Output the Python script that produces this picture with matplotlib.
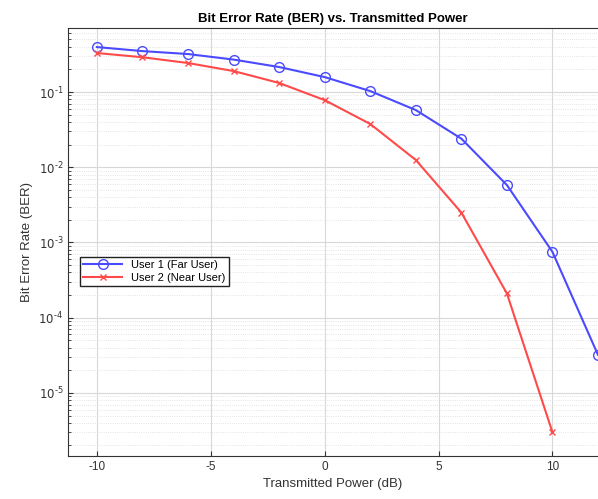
import numpy as np
import matplotlib.pyplot as plt
from matplotlib.ticker import LogLocator, MultipleLocator, NullFormatter, FuncFormatter

# === Data ===
power_db = [-10, -8, -6, -4, -2, 0, 2, 4, 6, 8, 10, 12]
ber_user1 = [0.396, 0.35, 0.32, 0.27, 0.215, 0.158, 0.103, 0.0576, 0.024, 0.0058, 7.5e-4, 3.2e-5]
power_db_user2 = [-10, -8, -6, -4, -2, 0, 2, 4, 6, 8, 10]
ber_user2 = [0.33, 0.29, 0.243, 0.19, 0.132, 0.078, 0.0376, 0.0125, 0.0025, 2.1e-4, 3.0e-6]

# === Plot ===
plt.rcParams['font.family'] = ['Liberation Sans', 'DejaVu Sans']
plt.rcParams['axes.unicode_minus'] = False
fig = plt.figure(figsize=(5.98, 4.99), dpi=100)
ax = fig.add_axes([68 / 598, 43 / 499, 530 / 598, 428 / 499])

ax.semilogy(power_db, ber_user1, '-o', color='#4a4aff', lw=1.5, ms=7,
            mfc='none', mew=1.0, label='User 1 (Far User)', clip_on=False)
ax.semilogy(power_db_user2, ber_user2, '-x', color='#ff4a4a', lw=1.5, ms=5,
            mew=1.0, label='User 2 (Near User)')

ax.set_xlim(-11.27, 12)
ax.set_ylim(1.45e-6, 0.71)
ax.xaxis.set_major_locator(MultipleLocator(5))
ax.yaxis.set_major_locator(LogLocator(base=10, numticks=20))
ax.yaxis.set_minor_locator(LogLocator(base=10, subs=np.arange(2, 10), numticks=20))
ax.yaxis.set_minor_formatter(NullFormatter())


def decade_label(v, pos):
    e = int(round(np.log10(v)))
    if e < 0:
        return r'$10^{\text{-}%d}$' % (-e)
    return r'$10^{%d}$' % e


ax.yaxis.set_major_formatter(FuncFormatter(decade_label))

ax.grid(True, which='major', color='#d8d8d8', lw=0.8, ls='-')
ax.grid(True, axis='y', which='minor', color='#dcdcdc', lw=0.6, ls=':')
ax.set_axisbelow(True)

ax.tick_params(which='both', direction='in', colors='#333333', labelsize=8.5)
ax.tick_params(which='minor', length=2)
for s in ax.spines.values():
    s.set_color('#333333')
ax.spines['right'].set_visible(False)

ax.set_title('Bit Error Rate (BER) vs. Transmitted Power', fontsize=9.5,
             fontweight='bold', pad=4)
ax.set_xlabel('Transmitted Power (dB)', fontsize=9.5, color='#333333')
ax.set_ylabel('Bit Error Rate (BER)', fontsize=9.5, color='#333333')

leg = ax.legend(loc='upper left', bbox_to_anchor=(0.012, 0.478), fontsize=8,
                fancybox=False, edgecolor='#222222', framealpha=1,
                borderpad=0.3, labelspacing=0.2, handlelength=3.5)
leg.get_frame().set_linewidth(1.0)

plt.savefig('out.png', dpi=100)
